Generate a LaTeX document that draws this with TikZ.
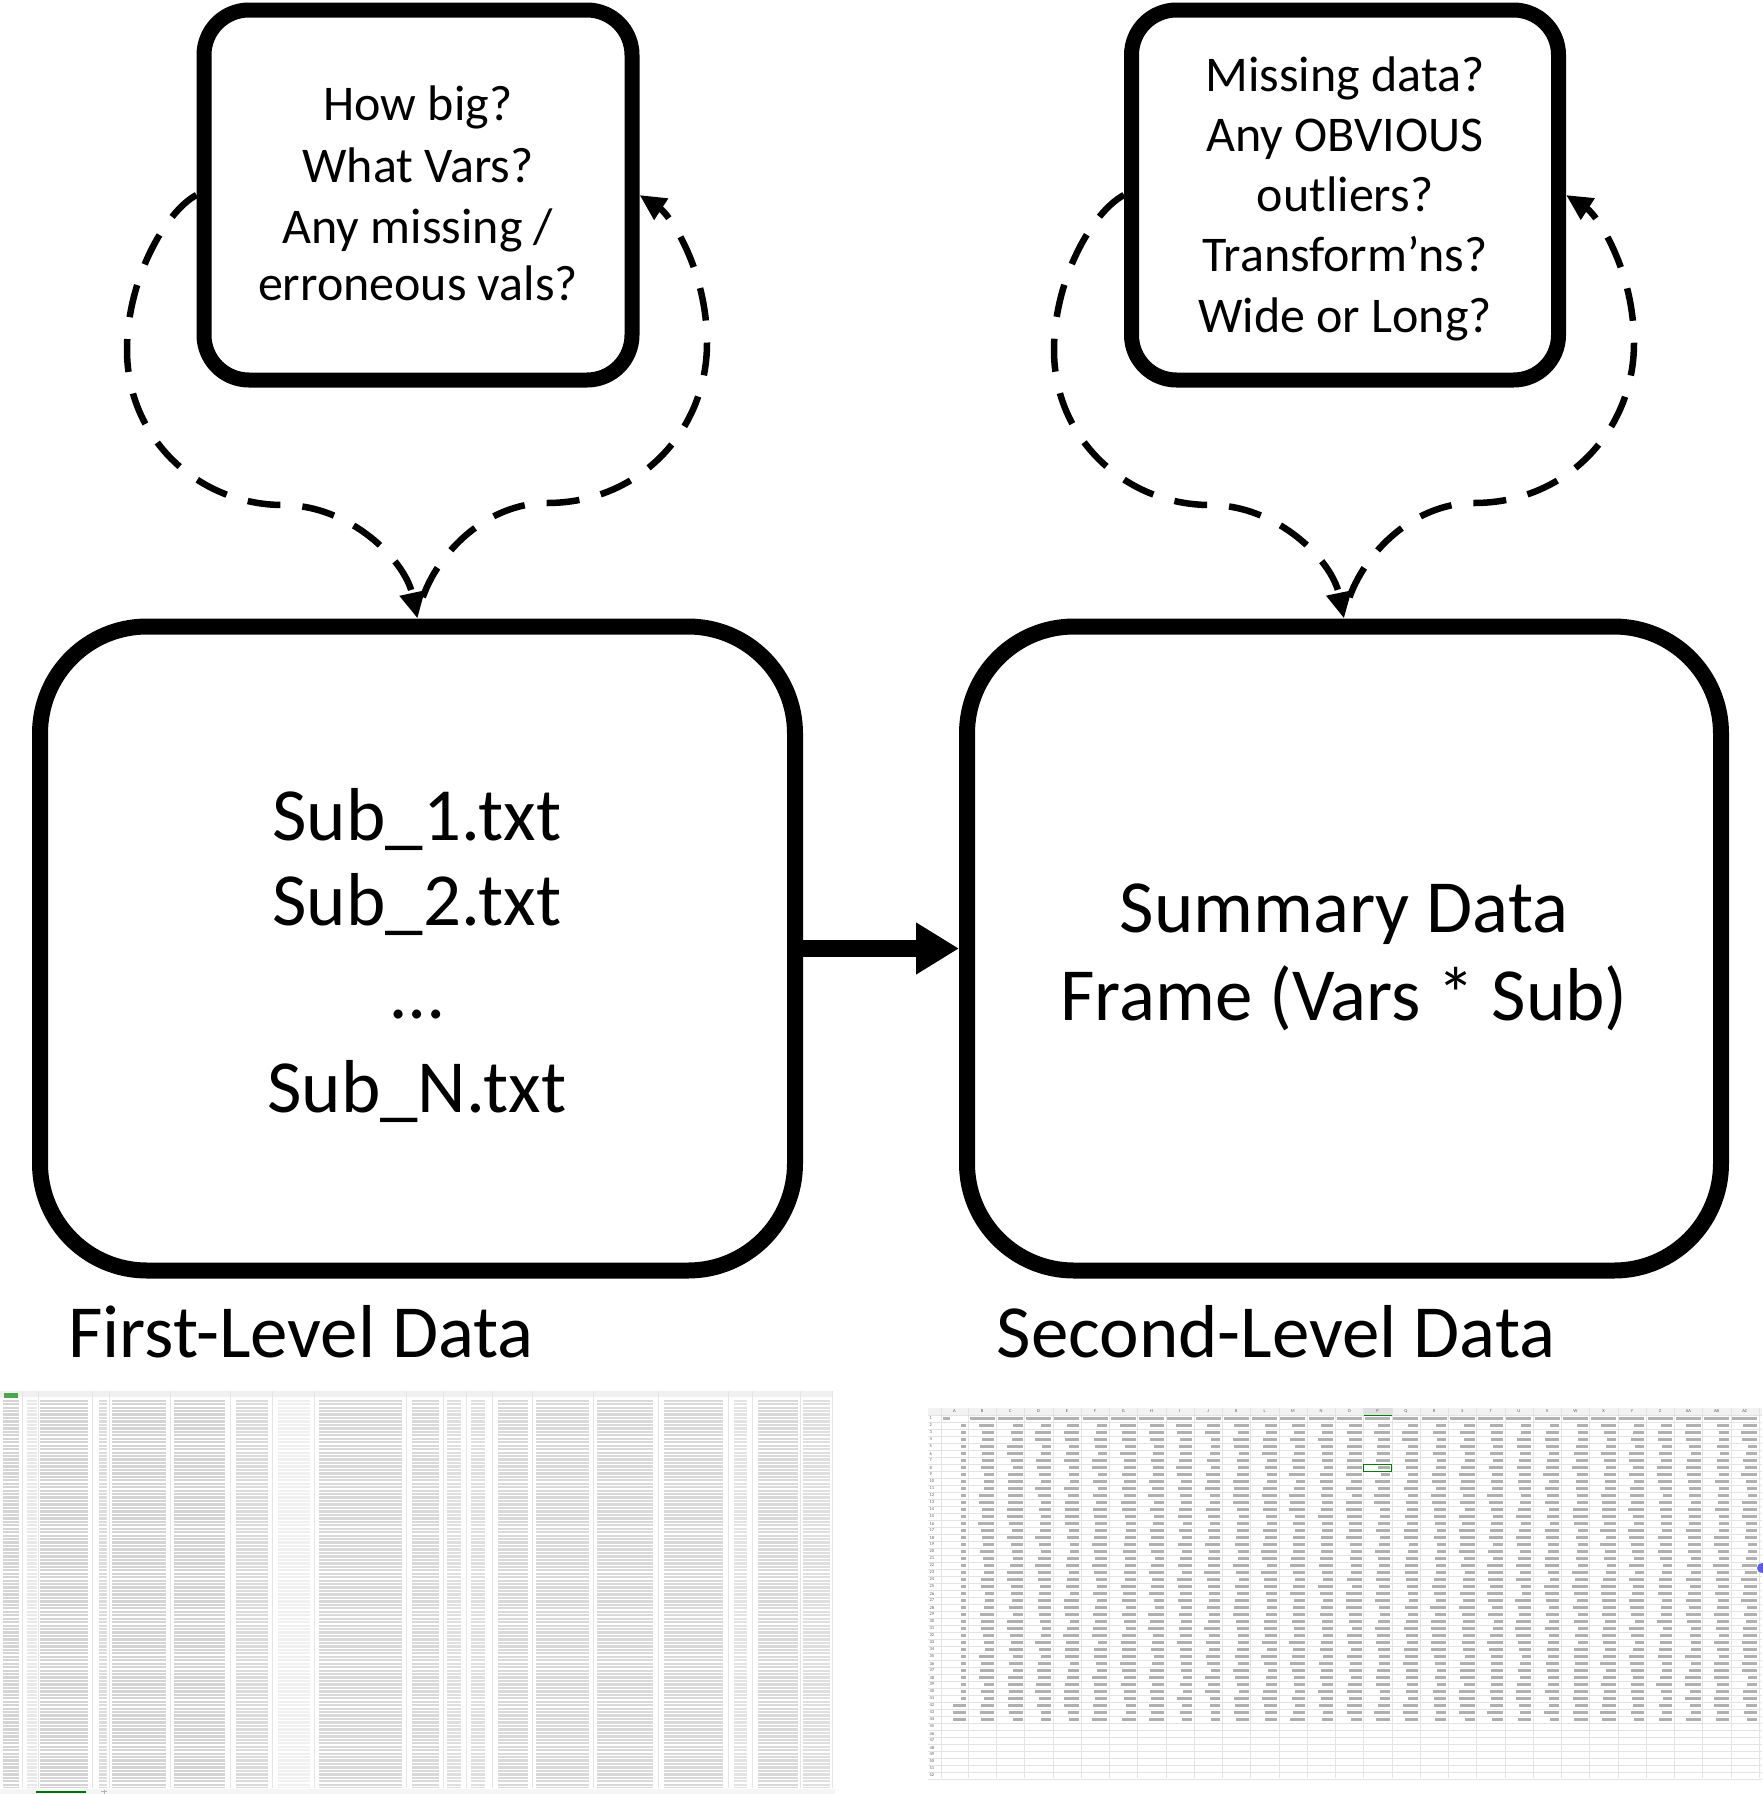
\documentclass[tikz,border=0pt]{standalone}
\usepackage{fontspec}
\setmainfont{Carlito}
\usetikzlibrary{arrows.meta}
\newcommand{\qloop}[3]{%
  \draw[loopline, shift={(#3,0)}] (#1.west) .. controls (165,212) and (127,280) .. (127,350)
     .. controls (127,440) and (200,505) .. (283,505)
     .. controls (350,505) and (405,560) .. (#2.north);
  \draw[loopline, dash phase=33pt, shift={(#3,0)}] (#2.north) .. controls (425,565) and (480,503) .. (547,503)
     .. controls (640,503) and (707,430) .. (707,343)
     .. controls (707,270) and (670,215) .. (#1.east);}
\begin{document}
\begin{tikzpicture}[x=1pt,y=-1pt,
  qbox/.style={draw, line width=15pt, rounded corners=45pt, minimum width=428pt, minimum height=370pt, inner sep=0pt},
  bigbox/.style={draw, line width=16pt, rounded corners=107pt, minimum width=755pt, minimum height=644pt, inner sep=0pt},
  qtext/.style={anchor=base, inner sep=0pt, font=\fontsize{50}{60}\selectfont},
  ftext/.style={anchor=base, inner sep=0pt, font=\fontsize{75}{88}\selectfont},
  ltext/.style={anchor=base, inner sep=0pt, font=\fontsize{75}{90}\selectfont},
  loopline/.style={line width=6.5pt, dash pattern=on 33pt off 22pt, -{Triangle[length=26pt,width=24pt]}},
  mainarrow/.style={line width=17pt, -{Triangle[length=43pt,width=49pt]}},
  cellbar/.style={fill=gray!62},
  tiny/.style={inner sep=0pt, font=\fontsize{4.5}{5}\selectfont, text=gray!70!black}]
\useasboundingbox (0,0) rectangle (1762,1794);

% boxes
\node[qbox] (sl) at (418,195) {};
\node[qbox, minimum width=427pt] (sr) at (1345,195) {};
\node[bigbox] (bl) at (417.5,948.5) {};
\node[bigbox, minimum width=754pt] (br) at (1344,948.5) {};

% question texts
\node[qtext] (q1) at (418,120) {How big?};
\node[qtext] (q2) at (418,182) {What Vars?};
\node[qtext] (q3) at (418,243) {Any missing /};
\node[qtext] (q4) at (418,300) {erroneous vals?};

\node[qtext] (r1) at (1345,91) {Missing data?};
\node[qtext] (r2) at (1345,151) {Any OBVIOUS};
\node[qtext] (r3) at (1345,211) {outliers?};
\node[qtext] (r4) at (1345,271) {Transform’ns?};
\node[qtext] (r5) at (1345,332) {Wide or Long?};

% big box texts
\node[ftext] (f1) at (417,840) {Sub\_1.txt};
\node[ftext] (f2) at (417,925) {Sub\_2.txt};
\node[ftext] (f3) at (417,1018) {…};
\node[ftext] (f4) at (417,1112) {Sub\_N.txt};

\node[ftext] (s1) at (1344,932) {Summary Data};
\node[ftext] (s2) at (1344,1020) {Frame (Vars * Sub)};

% labels
\node[ltext] (lab1) at (301,1357) {First-Level Data};
\node[ltext] (lab2) at (1276,1357) {Second-Level Data};

% connectors
\draw[mainarrow] (bl.east) -- (br.west);
\qloop{sl}{bl}{0}
\qloop{sr}{br}{927}

% ---------- left spreadsheet thumbnail ----------
\fill[gray!12] (0,1391) rectangle (832,1397);
\foreach \a/\b/\c in {3/19/34, 27/37/18, 40/88/34, 99/107/28, 112/166/34, 174/225/34,
   236/268/28, 278/310/12, 319/402/30, 412/439/30, 447/461/25, 471/485/25, 498/528/30,
   536/589/30, 597/653/30, 664/723/30, 734/747/22, 758/798/30, 803/830/25}
  \fill[gray!\c] (\a,1399) rectangle (\b,1788);
\foreach \k in {0,...,113}
  \draw[white, line width=1.2pt] (0,{1399+\k*3.46}) -- (832,{1399+\k*3.46});
\foreach \x in {22,38,92,109,170,230,272,314,406,443,466,492,532,593,658,728,752,800,832}
  \draw[gray!20, line width=0.3pt] (\x,1391) -- (\x,1788);
\fill[green!50!black!70] (4,1392.5) rectangle (18,1398);
\fill[gray!8] (0,1789) rectangle (835,1794);
\fill[green!45!black] (36,1790.5) rectangle (86,1792.5);
\draw[gray!60, line width=0.5pt] (101,1791.5) -- (107,1791.5) (104,1789.5) -- (104,1793.5);

% ---------- right spreadsheet thumbnail ----------
\fill[gray!10] (928,1408) rectangle (1762,1415);
\fill[gray!25] (1363.5,1408) rectangle (1391.75,1415);
\foreach \k in {0,...,52}
  \draw[gray!22, line width=0.35pt] (928,{1415+7*\k}) -- (1762,{1415+7*\k});
\draw[gray!22, line width=0.35pt] (941,1408) -- (941,1778) (968,1408) -- (968,1778);
\foreach \j in {1,...,28}
  \draw[gray!22, line width=0.35pt] ({968+28.25*\j},1408) -- ({968+28.25*\j},1778);
\foreach \k in {1,...,52}
  \node[tiny, anchor=west] (rn\k) at (929.5,{1415+7*\k-3.5}) {\k};
\node[tiny] (cA) at (954.5,1411.5) {A};
\foreach \l [count=\j from 0] in {B,C,D,E,F,G,H,I,J,K,L,M,N,O,P,Q,R,S,T,U,V,W,X,Y,Z,AA,AB,AC}
  \node[tiny] (c\l) at ({968+28.25*\j+14.1},1411.5) {\l};
% header row bars
\fill[gray!60] (943,1417.3) rectangle ++(7,2.4);
\foreach \j in {0,...,27}
  \fill[gray!60] ({968+28.25*\j+1.5},1417.3) rectangle ++(25,2.4);
% pid column
\foreach \r in {2,...,41}
  \fill[cellbar] (961,{1415+7*(\r-1)+2.3}) rectangle ++(5,2.4);
\foreach \r in {42,43,44}
  \fill[cellbar] (953,{1415+7*(\r-1)+2.3}) rectangle ++(13,2.4);
% data cells
\pgfmathsetseed{7}
\foreach \r in {2,...,44}{
  \foreach \c in {0,...,27}{
    \pgfmathsetmacro\w{9+7*rnd}
    \fill[cellbar] ({968+28.25*(\c+1)-2-\w},{1415+7*(\r-1)+2.3}) rectangle ++(\w,2.4);
  }
}
\draw[green!50!black, line width=0.8pt] (1363.5,1415) -- (1391.75,1415);
\draw[green!50!black, line width=0.8pt] (1363.5,1464) rectangle (1391.75,1471);
\fill[blue!65] (1762,1568) circle (5);
\end{tikzpicture}
\end{document}
